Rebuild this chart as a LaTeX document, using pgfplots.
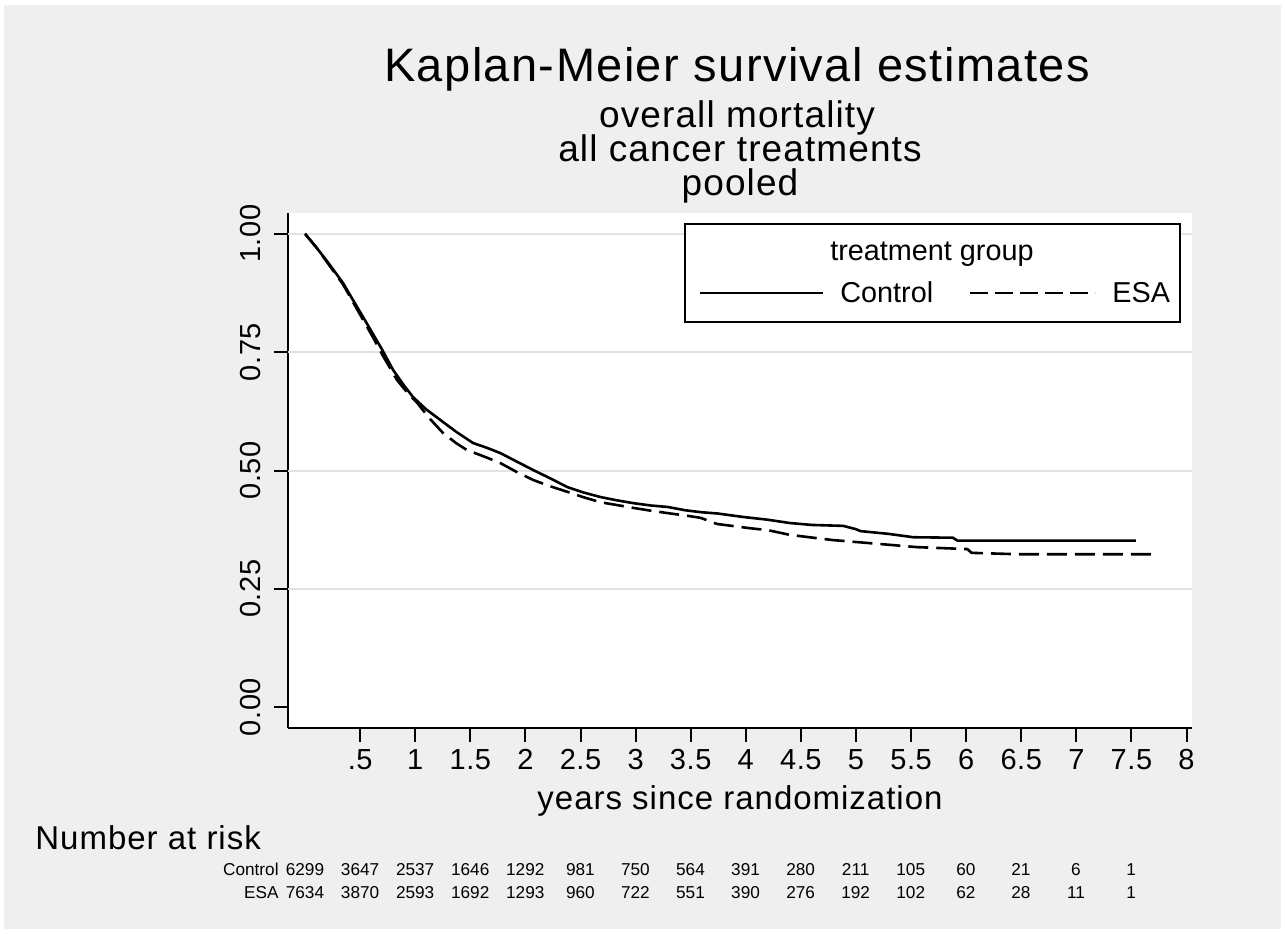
\documentclass[border=0pt]{standalone}
\usepackage{fontspec}
\setmainfont{Liberation Sans}
\newfontfamily\slight{Liberation Sans}[LetterSpace=3]
\newfontfamily\ticksp{Liberation Sans}[LetterSpace=2]
\usepackage{pgfplots}
\pgfplotsset{compat=1.18}

\definecolor{outerbg}{RGB}{239,239,239}
\definecolor{gridgray}{RGB}{226,226,226}

\newcommand\titlefont{\slight\fontsize{23.5pt}{28pt}\selectfont}
\newcommand\subfont{\slight\fontsize{18.5pt}{22pt}\selectfont}
\newcommand\tickfont{\ticksp\fontsize{14.5pt}{17pt}\selectfont}
\newcommand\labfont{\slight\fontsize{16.5pt}{19pt}\selectfont}
\newcommand\legfont{\fontsize{14.4pt}{17pt}\selectfont}
\newcommand\riskfont{\fontsize{8.6pt}{10pt}\selectfont}

% Kaplan-Meier estimates
\pgfplotstableread{
t s
0 1
0.10 0.972
0.20 0.942
0.345 0.896
0.43 0.862
0.527 0.824
0.62 0.787
0.70 0.755
0.80 0.712
0.90 0.679
0.98 0.655
1.10 0.629
1.226 0.607
1.37 0.582
1.525 0.558
1.65 0.548
1.77 0.537
1.92 0.519
2.07 0.501
2.22 0.484
2.38 0.465
2.52 0.454
2.68 0.444
2.83 0.437
2.98 0.431
3.14 0.426
3.29 0.423
3.45 0.416
3.59 0.412
3.75 0.409
3.97 0.402
4.20 0.396
4.40 0.389
4.60 0.385
4.885 0.383
5.00 0.376
5.04 0.372
5.30 0.366
5.52 0.359
5.88 0.358
5.92 0.352
7.54 0.352
}\control

\pgfplotstableread{
t s
0 1
0.10 0.972
0.20 0.940
0.345 0.893
0.43 0.858
0.527 0.818
0.62 0.780
0.70 0.745
0.835 0.691
0.93 0.664
1.017 0.643
1.13 0.610
1.253 0.579
1.37 0.558
1.47 0.543
1.62 0.530
1.77 0.516
1.92 0.497
2.07 0.480
2.22 0.467
2.38 0.455
2.52 0.444
2.68 0.433
2.83 0.427
2.98 0.421
3.14 0.415
3.29 0.410
3.45 0.405
3.59 0.400
3.74 0.387
4.04 0.378
4.20 0.374
4.40 0.364
4.79 0.353
5.10 0.347
5.56 0.338
6.01 0.334
6.05 0.326
6.49 0.323
7.69 0.323
}\esa

\begin{document}
\begin{tikzpicture}
% background, in pixel units of the reference (y downwards)
\begin{scope}[x=0.5pt, y=-0.5pt, shift={(0pt,466.5pt)}]
  \fill[white] (0,0) rectangle (1285,933);
  \fill[outerbg] (4,5) rectangle (1281,929);
\end{scope}

\begin{axis}[
  at={(144pt,102.5pt)}, anchor=south west,
  scale only axis, width=452pt, height=257.5pt,
  xmin=-0.155, xmax=8.05, ymin=-0.044, ymax=1.044,
  axis lines*=left,
  axis line style={line width=1pt},
  axis background/.style={fill=white},
  tick align=outside, major tick length=7pt,
  every tick/.style={black, line width=1pt},
  xtick={0.5,1,1.5,2,2.5,3,3.5,4,4.5,5,5.5,6,6.5,7,7.5,8},
  xticklabels={.5,1,1.5,2,2.5,3,3.5,4,4.5,5,5.5,6,6.5,7,7.5,8},
  ytick={0,0.25,0.5,0.75,1},
  yticklabels={0.00,0.25,0.50,0.75,1.00},
  extra y ticks={0.25,0.5,0.75,1},
  extra y tick labels={},
  extra y tick style={grid=major, major tick length=0pt},
  grid style={gridgray, line width=1pt},
  /pgf/number format/assume math mode=true,
  tick label style={font=\tickfont},
  y tick label style={rotate=90, anchor=south},
  yticklabel shift=3pt,
  xlabel={years since randomization},
  xlabel style={font=\labfont, yshift=-1pt},
  clip=false,
]
\addplot[black, line width=1.3pt] table[x=t, y=s] {\control};
\addplot[black, line width=1.3pt, dash pattern=on 10pt off 4pt] table[x=t, y=s] {\esa};
\end{axis}

\begin{scope}[x=0.5pt, y=-0.5pt, shift={(0pt,466.5pt)}]
  % titles
  \node[anchor=base, font=\titlefont, inner sep=0] at (737,82) {Kaplan-Meier survival estimates};
  \node[anchor=base, font=\subfont, inner sep=0] at (737,128) {overall mortality};
  \node[anchor=base, font=\subfont, inner sep=0] at (740,162) {all cancer treatments};
  \node[anchor=base, font=\subfont, inner sep=0] at (740,196) {pooled};
  % legend
  \draw[black, line width=1pt, fill=white] (685,224) rectangle (1180,322);
  \node[anchor=base, font=\legfont, inner sep=0] at (932,261) {treatment group};
  \draw[black, line width=1.3pt] (700,293) -- (823,293);
  \node[anchor=base west, font=\legfont, inner sep=0] at (840,303) {Control};
  \draw[black, line width=1.3pt, dash pattern=on 9pt off 3.5pt] (970,293) -- (1095,293);
  \node[anchor=base west, font=\legfont, inner sep=0] at (1112,303) {ESA};
  % number at risk
  \node[anchor=base west, font=\labfont, inner sep=0] at (35,849) {Number at risk};
  \node[anchor=base east, font=\riskfont, inner sep=0] at (279,875) {Control};
  \node[anchor=base east, font=\riskfont, inner sep=0] at (279,898) {ESA};
  \foreach \n [count=\i from 0] in {6299,3647,2537,1646,1292,981,750,564,391,280,211,105,60,21,6,1}
    \node[anchor=base, font=\riskfont, inner sep=0] at ({305+55.07*\i},875) {\n};
  \foreach \n [count=\i from 0] in {7634,3870,2593,1692,1293,960,722,551,390,276,192,102,62,28,11,1}
    \node[anchor=base, font=\riskfont, inner sep=0] at ({305+55.07*\i},898) {\n};
\end{scope}

\pgfresetboundingbox
\useasboundingbox (0pt,0pt) rectangle (642.5pt,466.5pt);
\end{tikzpicture}
\end{document}
